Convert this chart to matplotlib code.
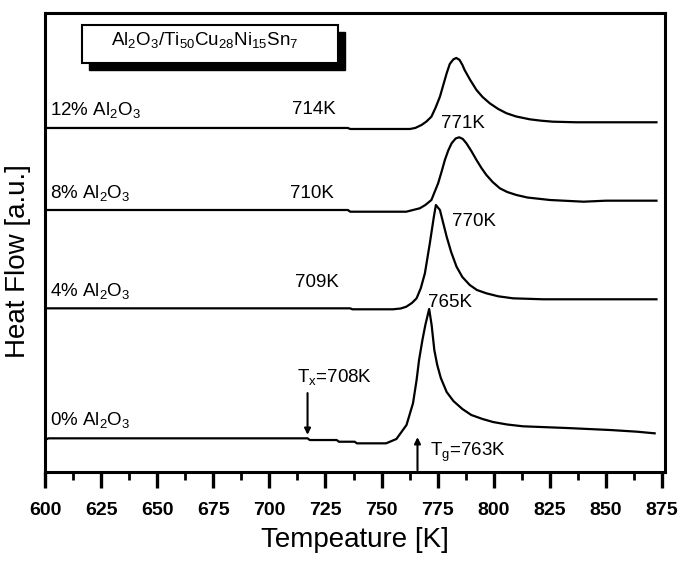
import matplotlib

matplotlib.use("Agg")  # headless
import matplotlib.patches as mpatches  # noqa: E402
import matplotlib.pyplot as plt  # noqa: E402
from matplotlib.ticker import MultipleLocator  # noqa: E402

plt.rcParams["font.family"] = ["Liberation Sans", "DejaVu Sans"]
plt.rcParams["mathtext.fontset"] = "custom"
plt.rcParams["mathtext.rm"] = "Liberation Sans"
plt.rcParams["mathtext.it"] = "Liberation Sans"
plt.rcParams["mathtext.bf"] = "Liberation Sans:bold"

# DSC traces, stacked: temperature [K] -> heat flow [a.u.]
t_0 = [600, 601.5, 717, 718, 730, 731, 738, 739, 752, 756.6, 761.1, 764, 765.6, 766.7,
       768.2, 769.5, 771.2, 772.3, 773.5, 774.8, 776.4, 779, 782, 786, 790, 795, 799.7,
       806, 813, 832.5, 852, 864, 871.7]
hf_0 = [6.97, 7.34, 7.34, 6.97, 6.97, 6.60, 6.60, 6.25, 6.25, 7.19, 10.24, 14.97, 20.04, 24.40,
        28.76, 32.03, 35.51, 32.03, 26.58, 23.31, 20.48, 17.43, 15.47, 13.73, 12.42, 11.55,
        10.89, 10.35, 9.96, 9.59, 9.15, 8.78, 8.43]

t_4 = [600, 736, 737, 755, 758.5, 761, 763.5, 765.6, 767.5, 769.3, 771.5, 773.3, 774.2, 776,
       779, 781, 783.4, 786, 789.3, 792.5, 796.7, 802, 808.6, 822, 872.5]
hf_4 = [35.66, 35.66, 35.45, 35.45, 35.62, 36.01, 36.82, 37.84, 40.09, 43.29, 49.83, 55.62,
        58.17, 57.08, 51.26, 47.93, 44.73, 42.48, 40.74, 39.65, 38.93, 38.28, 37.84, 37.63,
        37.63]

t_8 = [600, 735, 736, 761, 767, 769.5, 772.2, 775.2, 776.7, 778.2, 779.7, 781.2, 783, 784.6,
       786.2, 787.8, 790, 792.3, 794.5, 796.7, 799.5, 802.7, 806, 810.1, 815, 825, 840, 850,
       872.5]
hf_8 = [57.08, 57.08, 56.71, 56.71, 57.45, 58.17, 59.26, 62.90, 65.36, 67.97, 70.04, 71.61,
        72.66, 72.92, 72.55, 71.61, 69.93, 67.97, 66.23, 64.71, 63.18, 61.81, 61.00, 60.35,
        59.80, 59.26, 58.89, 59.11, 59.11]

t_12 = [600, 735, 736, 762.6, 765, 767.8, 770, 772.2, 774, 776, 777.5, 779, 780.4, 782, 783.3,
        784.7, 786, 787, 789.5, 792.3, 795, 798.2, 802, 805.7, 810, 816, 821, 826.3, 836.8,
        872.5]
hf_12 = [74.95, 74.95, 74.73, 74.73, 74.95, 75.60, 76.36, 77.41, 79.30, 81.76, 84.31, 86.86,
         88.90, 89.90, 90.20, 89.80, 88.70, 87.58, 85.40, 83.22, 81.70, 80.33, 79.08, 78.15,
         77.45, 76.84, 76.54, 76.32, 76.19, 76.19]

sample_labels = ["12% Al$_2$O$_3$", "8% Al$_2$O$_3$", "4% Al$_2$O$_3$", "0% Al$_2$O$_3$"]
onset_labels = ["714K", "710K", "709K"]
peak_labels = ["771K", "770K", "765K"]
tx_label = "T$_x$=708K"
tg_label = "T$_g$=763K"
title = "Al$_2$O$_3$/Ti$_{50}$Cu$_{28}$Ni$_{15}$Sn$_7$"

fig = plt.figure(figsize=(6.84, 5.62), dpi=100)
ax = fig.add_axes([0.0658, 0.1601, 0.9064, 0.8168])

for t, hf in [(t_0, hf_0), (t_4, hf_4), (t_8, hf_8), (t_12, hf_12)]:
    ax.plot(t, hf, color="black", lw=1.6, solid_joinstyle="round")

ax.set_xlim(600, 876.3)
ax.set_ylim(0, 100)

# sample names along the left, onset / peak temperatures near each trace
fs = 13.5
for lbl, y in zip(sample_labels, [77.8, 59.6, 38.3, 10.2]):
    ax.text(602.2, y, lbl, ha="left", va="baseline", fontsize=fs)
for lbl, x, y in zip(onset_labels, [710, 709.1, 711.4], [78.0, 59.6, 40.4]):
    ax.text(x, y, lbl, ha="left", va="baseline", fontsize=fs)
for lbl, x, y in zip(peak_labels, [776.7, 781.2, 770.6], [74.9, 53.6, 35.9]):
    ax.text(x, y, lbl, ha="left", va="baseline", fontsize=fs)

ax.text(712.2, 19.7, tx_label, ha="left", va="baseline", fontsize=fs)
ax.annotate("", xy=(717, 8.1), xytext=(717, 17.2),
            arrowprops=dict(arrowstyle="-|>", lw=1.5, color="black", mutation_scale=9,
                            shrinkA=0, shrinkB=0))
ax.text(771.5, 3.5, tg_label, ha="left", va="baseline", fontsize=fs)
ax.annotate("", xy=(766, 7.6), xytext=(766, 0.4),
            arrowprops=dict(arrowstyle="-|>", lw=1.5, color="black", mutation_scale=9,
                            shrinkA=0, shrinkB=0))

# title box with drop shadow
bx, by, bw, bh = 0.0597, 0.8911, 0.4129, 0.0828
ax.add_patch(mpatches.Rectangle((bx + 0.0105, by - 0.0145), bw, bh, transform=ax.transAxes,
                                facecolor="black", edgecolor="black", zorder=4))
ax.add_patch(mpatches.Rectangle((bx, by), bw, bh, transform=ax.transAxes,
                                facecolor="white", edgecolor="black", lw=1.5, zorder=5))
ax.text(bx + bw / 2 - 0.008, 0.930, title, transform=ax.transAxes, ha="center", va="baseline",
        fontsize=fs, zorder=6)

# axes styling
for s in ax.spines.values():
    s.set_linewidth(2.2)
ax.xaxis.set_major_locator(MultipleLocator(25))
ax.xaxis.set_minor_locator(MultipleLocator(12.5))
ax.tick_params(axis="x", which="major", direction="out", length=11.5, width=2.4, pad=10,
               labelsize=14)
ax.tick_params(axis="x", which="minor", direction="out", length=6, width=2.0)
ax.tick_params(axis="y", which="both", left=False, labelleft=False)
for lab in ax.get_xticklabels():
    lab.set_fontweight("bold")

fig.text(0.519, 0.040, "Tempeature [K]", ha="center", va="center", fontsize=20)
fig.text(0.026, 0.535, "Heat Flow [a.u.]", ha="center", va="center", rotation=90, fontsize=20)

fig.savefig("out.png", dpi=100)
